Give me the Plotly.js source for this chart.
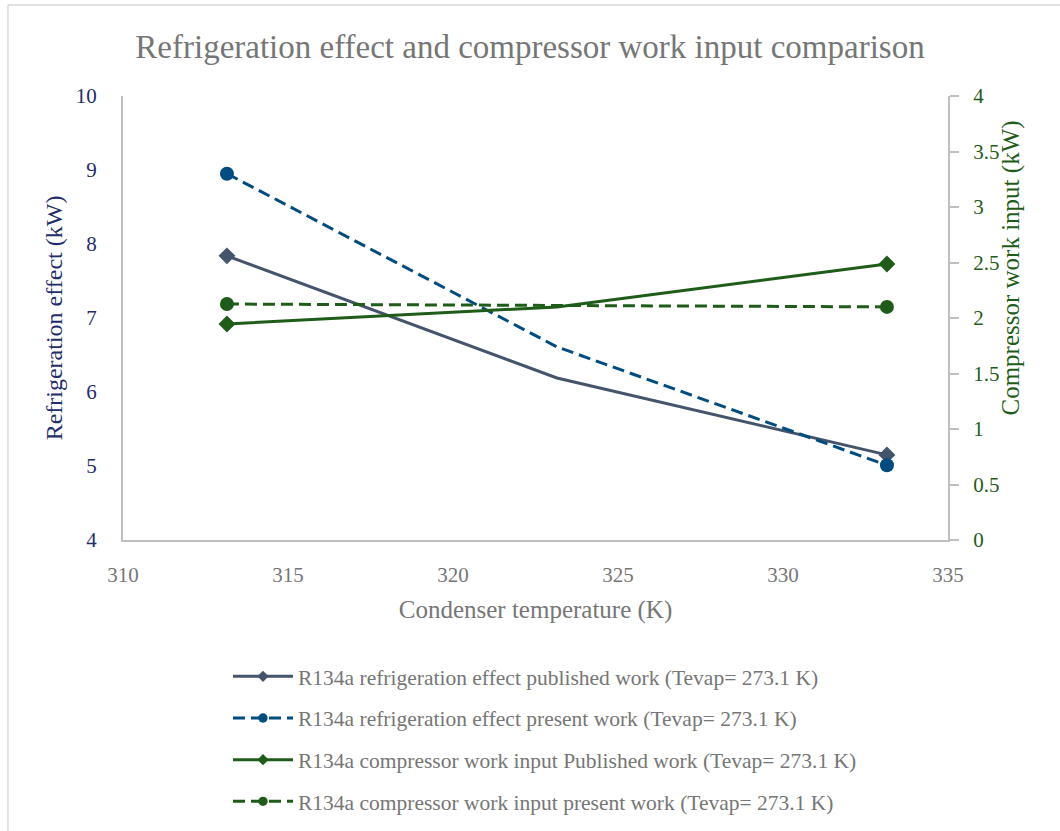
<!DOCTYPE html>
<html>
<head>
<meta charset="utf-8">
<script src="https://cdn.plot.ly/plotly-3.0.1.min.js"></script>
<style>html,body{margin:0;padding:0;background:#fff;}#chart{width:1060px;height:831px;}</style>
</head>
<body>
<div id="chart"></div>
<script>
// Data
var condenserTemp = [313.15, 323.15, 333.15];
var refPublished = [7.84, 6.19, 5.15];
var refPresent = [8.95, 6.61, 5.01];
var compPublished = [1.946, 2.10, 2.486];
var compPresent = [2.126, 2.11, 2.10];
var seriesNames = [
  "R134a refrigeration effect published work (Tevap= 273.1 K)",
  "R134a refrigeration effect present work (Tevap= 273.1 K)",
  "R134a compressor work input Published work (Tevap= 273.1 K)",
  "R134a compressor work input present work (Tevap= 273.1 K)"
];
var xTicks = [310, 315, 320, 325, 330, 335];

var FONT = "'Liberation Serif', 'DejaVu Serif', serif";
var endSizesDiamond = [13, 0, 13];
var endSizesCircle = [14, 0, 14];
var DASH = '12px,6px';

var traces = [
  {x: condenserTemp, y: refPublished, name: seriesNames[0], type: 'scatter', mode: 'lines+markers',
   line: {color: '#44546A', width: 3}, marker: {symbol: 'diamond', size: endSizesDiamond, color: '#44546A', opacity: 1, line: {width: 0}},
   yaxis: 'y', legendgroup: 'a'},
  {x: condenserTemp, y: refPresent, name: seriesNames[1], type: 'scatter', mode: 'lines+markers',
   line: {color: '#004C7F', width: 3, dash: DASH}, marker: {symbol: 'circle', size: endSizesCircle, color: '#004C7F', opacity: 1, line: {width: 0}},
   yaxis: 'y', legendgroup: 'b'},
  {x: condenserTemp, y: compPublished, name: seriesNames[2], type: 'scatter', mode: 'lines+markers',
   line: {color: '#1F5C1A', width: 3}, marker: {symbol: 'diamond', size: endSizesDiamond, color: '#1F5C1A', opacity: 1, line: {width: 0}},
   yaxis: 'y2', legendgroup: 'c'},
  {x: condenserTemp, y: compPresent, name: seriesNames[3], type: 'scatter', mode: 'lines+markers',
   line: {color: '#1F5C1A', width: 3, dash: DASH}, marker: {symbol: 'circle', size: endSizesCircle, color: '#1F5C1A', opacity: 1, line: {width: 0}},
   yaxis: 'y2', legendgroup: 'd'}
];

var layout = {
  width: 1060, height: 831,
  paper_bgcolor: '#ffffff', plot_bgcolor: '#ffffff',
  margin: {l: 123, r: 112, t: 96, b: 291, autoexpand: false},
  font: {family: FONT, color: '#767676', size: 20},
  title: {text: 'Refrigeration effect and compressor work input comparison',
          font: {family: FONT, size: 33, color: '#767676'}, x: 0.5, xanchor: 'center', y: 0.944, yanchor: 'middle'},
  xaxis: {range: [310, 335], tickvals: xTicks, showgrid: false, zeroline: false,
          showline: true, linecolor: '#BFBFBF', linewidth: 2, ticks: '',
          tickfont: {family: FONT, size: 21, color: '#767676'}, ticklabelstandoff: 15,
          title: {text: 'Condenser temperature (K)', font: {family: FONT, size: 25, color: '#767676'}, standoff: 14}},
  yaxis: {range: [4, 10], dtick: 1, showgrid: false, zeroline: false,
          showline: true, linecolor: '#BFBFBF', linewidth: 2, ticks: '',
          tickfont: {family: FONT, size: 21, color: '#1F2D6B'}, ticklabelstandoff: 20,
          title: {text: 'Refrigeration effect (kW)', font: {family: FONT, size: 24, color: '#1F2D6B'}, standoff: 6}},
  yaxis2: {range: [0, 4], dtick: 0.5, overlaying: 'y', side: 'right', showgrid: false, zeroline: false,
           showline: true, linecolor: '#BFBFBF', linewidth: 2, ticks: 'outside', ticklen: 9, tickcolor: '#BFBFBF', tickwidth: 2,
           tickfont: {family: FONT, size: 21, color: '#1F5C1A'}, ticklabelstandoff: 10},
  showlegend: true,
  legend: {orientation: 'v', x: (228 - 123) / 825, xanchor: 'left', y: -0.261, yanchor: 'top', itemwidth: 60,
           font: {family: FONT, size: 21.5, color: '#767676'}, tracegroupgap: 10.7, bgcolor: 'rgba(0,0,0,0)'},
  annotations: [
    {text: 'Compressor work input (kW)', xref: 'paper', yref: 'paper', x: 1.076, y: 0.613,
     xanchor: 'center', yanchor: 'middle', textangle: -90, showarrow: false,
     font: {family: FONT, size: 25, color: '#1F5C1A'}}
  ],
  shapes: [
    {type: 'line', xref: 'paper', yref: 'paper', x0: -0.1394, x1: -0.1394, y0: -0.7, y1: 1.205,
     line: {color: '#D9D9D9', width: 1.5}},
    {type: 'line', xref: 'paper', yref: 'paper', x0: -0.1394, x1: 1.15, y0: 1.205, y1: 1.205,
     line: {color: '#D9D9D9', width: 1.5}}
  ]
};

Plotly.newPlot('chart', traces, layout, {displayModeBar: false, staticPlot: true});
</script>
</body>
</html>
